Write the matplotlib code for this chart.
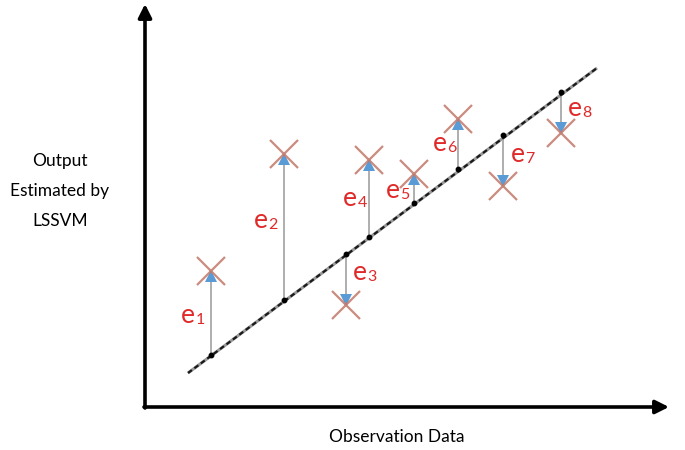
import matplotlib
matplotlib.use("Agg")
import matplotlib.pyplot as plt

# Logical data (observation positions, fitted output, observed output)
labels = ["1", "2", "3", "4", "5", "6", "7", "8"]
x_obs = [6.6, 13.9, 20.1, 22.4, 26.9, 31.3, 35.8, 41.6]
y_fit = [5.2, 10.7, 15.3, 17.0, 20.4, 23.8, 27.2, 31.5]
y_act = [13.6, 25.3, 10.2, 24.7, 23.3, 28.8, 22.1, 27.4]
line_x = [4.3, 45.2]
line_y = [3.4, 33.9]
# label anchor positions (left edge of "e", baseline)
lab_x = [3.6, 10.9, 20.8, 19.8, 24.1, 28.8, 36.6, 42.3]
lab_y = [8.4, 17.9, 12.7, 20.1, 20.9, 25.6, 24.5, 29.1]

fig = plt.figure(figsize=(6.85, 4.5), dpi=100)
ax = fig.add_axes([0, 0, 1, 1])
ax.set_xlim(-14.5, 54.0)
ax.set_ylim(-4.3, 40.7)
ax.axis("off")

# axes with arrows
ax.annotate("", xy=(0, 40.3), xytext=(0, -0.1),
            arrowprops=dict(arrowstyle="-|>,head_length=0.8,head_width=0.4",
                            lw=2.6, color="black", shrinkA=0, shrinkB=0))
ax.annotate("", xy=(52.4, 0), xytext=(-0.1, 0),
            arrowprops=dict(arrowstyle="-|>,head_length=0.8,head_width=0.4",
                            lw=2.6, color="black", shrinkA=0, shrinkB=0))

# fitted dashed line
ax.plot(line_x, line_y, color="#9a9a9a", lw=2.2, solid_capstyle="butt", zorder=2)
ax.plot(line_x, line_y, color="#1a1a1a", lw=1.6, dashes=(2.2, 1.4), zorder=3)

tri_off = 0.5
for i in range(len(x_obs)):
    x, yf, ya = x_obs[i], y_fit[i], y_act[i]
    up = ya > yf
    s = 1 if up else -1
    ax.plot([x, x], [yf, ya - s * 0.9], color="#a8a8a8", lw=1.3, zorder=2)
    ax.plot(x, ya - s * tri_off, marker="^" if up else "v",
            color="#5b9bd5", markersize=8.5, markeredgewidth=0, zorder=4)
    ax.plot(x, ya, marker="x", color="#c07868", markersize=20, markeredgewidth=1.6,
            alpha=0.85, zorder=5)
    ax.plot(x, yf, marker="o", color="black", markersize=3.2, zorder=6)
    ax.text(lab_x[i], lab_y[i], "e", color="#e02a2a", fontsize=19,
            ha="left", va="baseline", family="Lato", zorder=7)
    ax.text(lab_x[i] + 1.45, lab_y[i] - 0.1, labels[i], color="#e02a2a", fontsize=11.5,
            ha="left", va="baseline", family="Lato", zorder=7)

ax.text(-8.5, 21.6, "Output\nEstimated by\nLSSVM", ha="center", va="center",
        fontsize=12.5, linespacing=2.1, family="Lato")
ax.text(25.2, -3.0, "Observation Data", ha="center", va="center",
        fontsize=12.5, family="Lato")

fig.savefig("out.png", dpi=100)
